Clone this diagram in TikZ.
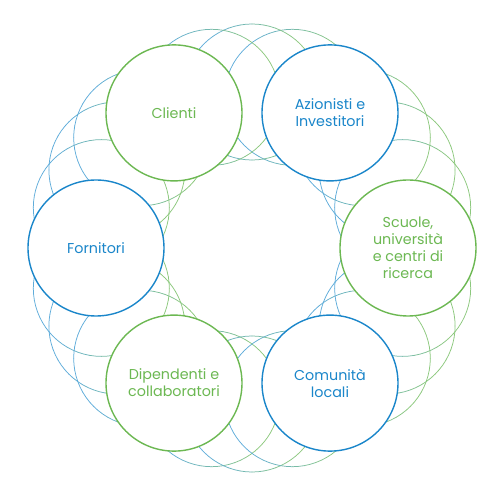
\documentclass[tikz,border=0pt]{standalone}
\usepackage{fontspec}
\setmainfont{Poppins}
\usepackage{tikz}
\definecolor{ringgreen}{RGB}{108,184,82}
\definecolor{ringblue}{RGB}{26,134,202}
\definecolor{thingreen}{RGB}{140,200,125}
\definecolor{thinblue}{RGB}{95,172,218}
\tikzstyle{party}=[circle,fill=white,line width=1.4pt,minimum size=136pt,inner sep=0pt,align=center,font=\fontsize{14.3}{17}\selectfont]
\tikzstyle{thinring}=[line width=0.75pt,line cap=round]

\begin{document}
\begin{tikzpicture}[x=1pt,y=1pt]
        \useasboundingbox (-252,-252) rectangle (248,248);

        % overlapping thin rings, blue on the left fading to green on the right
        \foreach \a in {15,30,45,75,90,105,135,150,165,195,210,225,255,270,285,315,330,345}{
          \foreach \b in {0,10,...,350}{
            \pgfmathtruncatemacro\mix{max(0,min(100,50-75*cos(\b+5)))}
            \draw[thinring,thinblue!\mix!thingreen] ([shift={(\a:156)}]\b:68) arc[start angle=\b,end angle=\b+10,radius=68];
          }
        }

        \node[party,draw=ringgreen,text=ringgreen] (scuole) at (0:156) {Scuole,\\universit\`a\\e centri di\\ricerca};
        \node[party,draw=ringblue,text=ringblue] (azionisti) at (60:156) {Azionisti e\\Investitori};
        \node[party,draw=ringgreen,text=ringgreen] (clienti) at (120:156) {Clienti};
        \node[party,draw=ringblue,text=ringblue] (fornitori) at (180:156) {Fornitori};
        \node[party,draw=ringgreen,text=ringgreen] (dipendenti) at (240:156) {Dipendenti e\\collaboratori};
        \node[party,draw=ringblue,text=ringblue] (comunita) at (300:156) {Comunit\`a\\locali};

      \end{tikzpicture}
\end{document}
